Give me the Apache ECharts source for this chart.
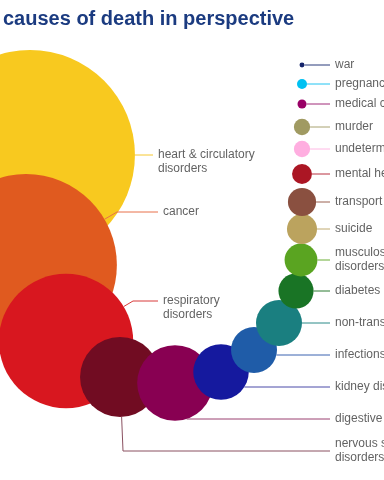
<!DOCTYPE html>
<html><head><meta charset="utf-8">
<script src="https://cdn.jsdelivr.net/npm/echarts/dist/echarts.min.js"></script>
<style>html,body{margin:0;padding:0;background:#fff}#c{width:384px;height:480px}</style>
</head><body><div id="c"></div>
<script>
// ---- data (deaths, thousands) ----
const causes = ["heart & circulatory\ndisorders","cancer","respiratory\ndisorders","nervous system\ndisorders","digestive disorders","kidney disease","infections","non-transmissible diseases","diabetes","musculoskeletal\ndisorders","suicide","transport accidents","mental health","undetermined","murder","medical complications","pregnancy","war"];
const deaths = [200,150,82,29,26,14,9.6,9.6,5.6,4.9,4.1,3.6,1.8,1.2,1.2,0.37,0.45,0.11];
// spiral layout positions (axis units)
const layoutX = [30,26,66,120,175,221,254,279,296,301,302,302,302,302,302,302,302,302];
const layoutY = [155,265,341,377,383,372,350,323,291,260,229,202,174,149,127,104,84,65];
// label rows
const labelRowY = [155,212,301,451,419,387,355,323,291,260,229,202,174,149,127,104,84,65];
const labelEndX = [153,158,158,330,330,330,330,330,330,330,330,330,330,330,330,330,330,330];
const elbows = [null,[117,212],[133,301],[123,451],null,null,null,null,null,null,null,null,null,null,null,null,null,null];
const colors = ["#f8c91f","#e05a1f","#d8171f","#710c22","#880052","#15199e","#1f5ca8","#1a7f80","#197425","#5aa421","#bba35e","#8a5040","#ab1624","#ffaee0","#a09a62","#990066","#00c1f2","#14236a"];
const leaderColors = ["#f6c830","#e8704a","#d83a3a","#8a5060","#9a4070","#4a4aa8","#3a62b0","#2a8a88","#2a7a30","#6aae34","#c0aa70","#9a6050","#b83040","#ffb8e4","#a8a270","#a02a78","#20c4f2","#283a7a"];

const K = 7.42; // px per sqrt(thousand)
const radius = v => K * Math.sqrt(v);

const bubbleData = causes.map((c,i)=>({name:c, value:[layoutX[i], layoutY[i], deaths[i]], itemStyle:{color:colors[i]}}));

const leaderData = causes.map((c,i)=>{
  const cx = layoutX[i], cy = layoutY[i], r = radius(deaths[i]);
  const end = [labelEndX[i], labelRowY[i]];
  const pts = [];
  if (elbows[i]) {
    const e = elbows[i];
    const dx = e[0]-cx, dy = e[1]-cy, L = Math.hypot(dx,dy);
    pts.push([cx + r*dx/L, cy + r*dy/L], e, end);
  } else {
    const dy = labelRowY[i]-cy;
    const sx = Math.abs(dy) < r ? cx + Math.sqrt(r*r-dy*dy) : cx;
    pts.push([sx, labelRowY[i]], end);
  }
  return {coords: pts, lineStyle:{color: leaderColors[i], width:1, opacity:1}};
});

const labelData = causes.map((c,i)=>{
  const twoTop = (i===0 || i===2);
  return {name:c, value:[labelEndX[i], labelRowY[i]],
    label:{offset:[0, twoTop ? 7 : 0]}};
});

const chart = echarts.init(document.getElementById('c'), null, {renderer:'canvas'});
chart.setOption({
  animation:false,
  backgroundColor:'#ffffff',
  title:{text:'causes of death in perspective', left:3, top:9, padding:0,
    textStyle:{fontSize:20, fontWeight:'bold', color:'#1b3b80', fontFamily:'Liberation Sans, Arial, sans-serif'}},
  grid:{left:0, right:0, top:0, bottom:0},
  xAxis:{type:'value', min:0, max:384, show:false},
  yAxis:{type:'value', min:0, max:480, inverse:true, show:false},
  series:[
    {type:'scatter', z:2, data:bubbleData, symbol:'circle',
      symbolSize: v => 2*radius(v[2]), itemStyle:{opacity:1}, emphasis:{disabled:true}},
    {type:'lines', z:3, coordinateSystem:'cartesian2d', polyline:true, data:leaderData, silent:true,
      lineStyle:{opacity:1, width:1}},
    {type:'scatter', z:4, data:labelData, symbolSize:0, silent:true,
      label:{show:true, position:'right', distance:5, formatter:p=>p.name,
        fontSize:12, lineHeight:14, color:'#3a3a3a', fontFamily:'Liberation Sans, Arial, sans-serif'}}
  ]
});
</script></body></html>
